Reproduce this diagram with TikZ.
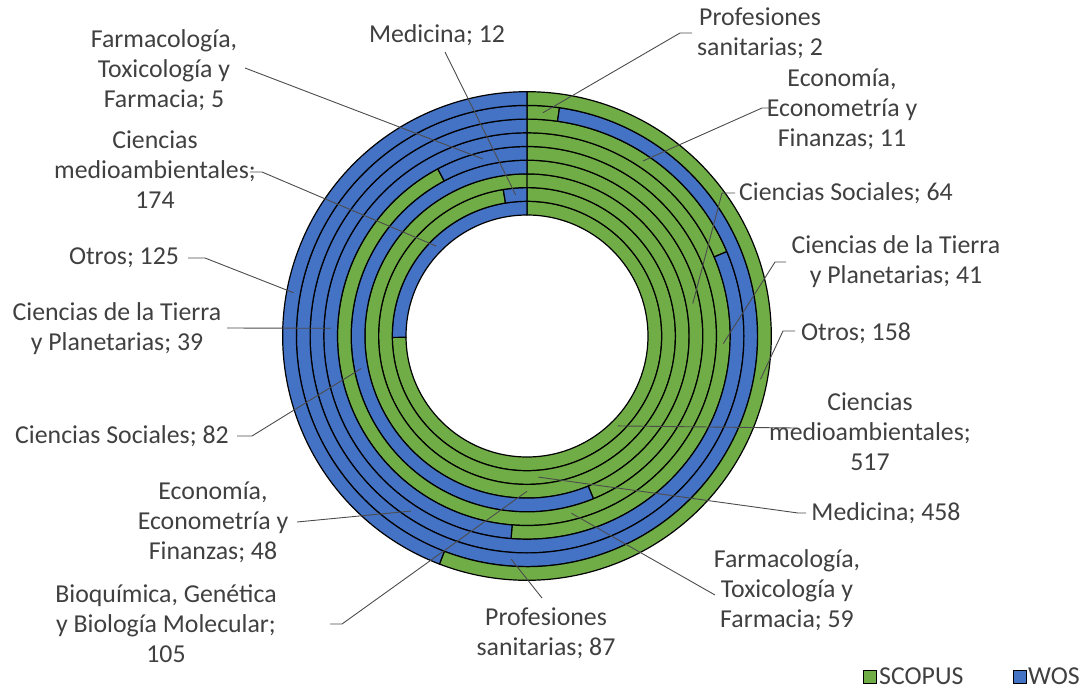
\documentclass[tikz,border=0pt]{standalone}
\usepackage{fontspec}
\setmainfont{Carlito}
\definecolor{scopus}{HTML}{70AD47}
\definecolor{wos}{HTML}{4472C4}
\definecolor{txt}{HTML}{404040}
\tikzset{
  seg/.style={draw=black, line width=1.2pt, line join=round},
  lbl/.style={font=\fontsize{25.8}{30}\selectfont, text=txt, align=center, inner sep=0pt},
  ldr/.style={draw=black!70, line width=0.9pt},
  legbox/.style={draw=black, line width=1pt, minimum size=13pt, inner sep=0pt}
}
\newcommand\ringseg[4]{%
  \pgfmathsetmacro\myRa{121+13.7*#1}%
  \pgfmathsetmacro\myRb{\myRa+13.7}%
  \filldraw[seg, fill=#4] ({90-#2}:\myRb) arc[start angle={90-#2}, end angle={90-#3}, radius=\myRb]
    -- ({90-#3}:\myRa) arc[start angle={90-#3}, end angle={90-#2}, radius=\myRa] -- cycle;}
\newcommand\ringpt[3]{\coordinate (#1) at ({90-#3}:{121+13.7*(#2+0.5)});}
\begin{document}
\begin{tikzpicture}[x=1pt,y=-1pt]
\useasboundingbox (0,0) rectangle (1089,690);
\begin{scope}[shift={(527,336)}, y=1pt]
  % ring 0: Ciencias medioambientales
  \ringseg{0}{0}{269.4}{scopus}\ringseg{0}{269.4}{360}{wos}
  % ring 1: Medicina
  \ringseg{1}{0}{350.8}{scopus}\ringseg{1}{350.8}{360}{wos}
  % ring 2: Bioquimica
  \ringseg{2}{0}{360}{scopus}
  % ring 3: Ciencias Sociales
  \ringseg{3}{0}{157.8}{scopus}\ringseg{3}{157.8}{360}{wos}
  % ring 4: Farmacologia
  \ringseg{4}{0}{331.9}{scopus}\ringseg{4}{331.9}{360}{wos}
  % ring 5: Tierra
  \ringseg{5}{0}{184.5}{scopus}\ringseg{5}{184.5}{360}{wos}
  % ring 6: Economia
  \ringseg{6}{0}{67.1}{scopus}\ringseg{6}{67.1}{360}{wos}
  % ring 7: Profesiones
  \ringseg{7}{0}{8.1}{scopus}\ringseg{7}{8.1}{360}{wos}
  % ring 8: Otros
  \ringseg{8}{0}{201.0}{scopus}\ringseg{8}{201.0}{360}{wos}
  % label anchor points on rings
  \ringpt{pm12}{1}{355.4}
  \ringpt{pf5}{4}{345.95}
  \ringpt{pma174}{0}{314.7}
  \ringpt{po125}{8}{280.5}
  \ringpt{pt39}{5}{272.25}
  \ringpt{ps82}{3}{258.9}
  \ringpt{pe48}{6}{213.55}
  \ringpt{pb105}{2}{180}
  \ringpt{pp87}{7}{184.05}
  \ringpt{pf59}{4}{165.95}
  \ringpt{pm458}{1}{175.4}
  \ringpt{pma517}{0}{134.7}
  \ringpt{po158}{8}{100.5}
  \ringpt{pt41}{5}{92.25}
  \ringpt{ps64}{3}{78.9}
  \ringpt{pe11}{6}{33.55}
  \ringpt{pp2}{7}{4.05}
\end{scope}

% labels
\node[lbl] (m12) at (437,35) {Medicina; 12};
\node[lbl] (f5) at (164,70) {Farmacología,\\Toxicología y\\Farmacia; 5};
\node[lbl] (ma174) at (155,170) {Ciencias\\medioambientales;\\174};
\node[lbl] (o125) at (124,258) {Otros; 125};
\node[lbl] (t39) at (117,329) {Ciencias de la Tierra\\y Planetarias; 39};
\node[lbl] (s82) at (122,436) {Ciencias Sociales; 82};
\node[lbl] (e48) at (213,522) {Economía,\\Econometría y\\Finanzas; 48};
\node[lbl] (b105) at (166,624) {Bioquímica, Genética\\y Biología Molecular;\\105};
\node[lbl] (p87) at (546,633) {Profesiones\\sanitarias; 87};
\node[lbl] (f59) at (787,590) {Farmacología,\\Toxicología y\\Farmacia; 59};
\node[lbl] (m458) at (886,513) {Medicina; 458};
\node[lbl] (ma517) at (870,432) {Ciencias\\medioambientales;\\517};
\node[lbl] (o158) at (856,333) {Otros; 158};
\node[lbl] (t41) at (896,262) {Ciencias de la Tierra\\y Planetarias; 41};
\node[lbl] (s64) at (846,193) {Ciencias Sociales; 64};
\node[lbl] (e11) at (842,109) {Economía,\\Econometría y\\Finanzas; 11};
\node[lbl] (p2) at (760,33) {Profesiones\\sanitarias; 2};

% leader start coordinates
\coordinate (lm12) at (445,52);
\coordinate (lf5) at (245,68);
\coordinate (lma174a) at (250,172); \coordinate (lma174b) at (262,172);
\coordinate (lo125a) at (188,258); \coordinate (lo125b) at (205,258);
\coordinate (lt39) at (227,328);
\coordinate (ls82a) at (237,436); \coordinate (ls82b) at (252,436);
\coordinate (le48) at (297,522);
\coordinate (lb105a) at (330,624); \coordinate (lb105b) at (342,624);
\coordinate (lp87) at (542,598);
\coordinate (lf59) at (715,595);
\coordinate (lm458a) at (806,513); \coordinate (lm458b) at (798,513);
\coordinate (lma517) at (795,428);
\coordinate (lo158a) at (795,331); \coordinate (lo158b) at (783,331);
\coordinate (lt41a) at (786,262); \coordinate (lt41b) at (775,262);
\coordinate (ls64a) at (735,193); \coordinate (ls64b) at (722,193);
\coordinate (le11a) at (772,108); \coordinate (le11b) at (762,108);
\coordinate (lp2a) at (692,33); \coordinate (lp2b) at (680,33);

% leader lines
\draw[ldr] (lm12) -- (pm12);
\draw[ldr] (lf5) -- (pf5);
\draw[ldr] (lma174a) -- (lma174b) -- (pma174);
\draw[ldr] (lo125a) -- (lo125b) -- (po125);
\draw[ldr] (lt39) -- (pt39);
\draw[ldr] (ls82a) -- (ls82b) -- (ps82);
\draw[ldr] (le48) -- (pe48);
\draw[ldr] (lb105a) -- (lb105b) -- (pb105);
\draw[ldr] (lp87) -- (pp87);
\draw[ldr] (lf59) -- (pf59);
\draw[ldr] (lm458a) -- (lm458b) -- (pm458);
\draw[ldr] (lma517) -- (pma517);
\draw[ldr] (lo158a) -- (lo158b) -- (po158);
\draw[ldr] (lt41a) -- (lt41b) -- (pt41);
\draw[ldr] (ls64a) -- (ls64b) -- (ps64);
\draw[ldr] (le11a) -- (le11b) -- (pe11);
\draw[ldr] (lp2a) -- (lp2b) -- (pp2);

% legend
\node[legbox, fill=scopus] (lgs) at (870,677) {};
\node[lbl, anchor=west] (lgst) at (879,676) {SCOPUS};
\node[legbox, fill=wos] (lgw) at (1020,677) {};
\node[lbl, anchor=west] (lgwt) at (1028,676) {WOS};
\end{tikzpicture}
\end{document}
